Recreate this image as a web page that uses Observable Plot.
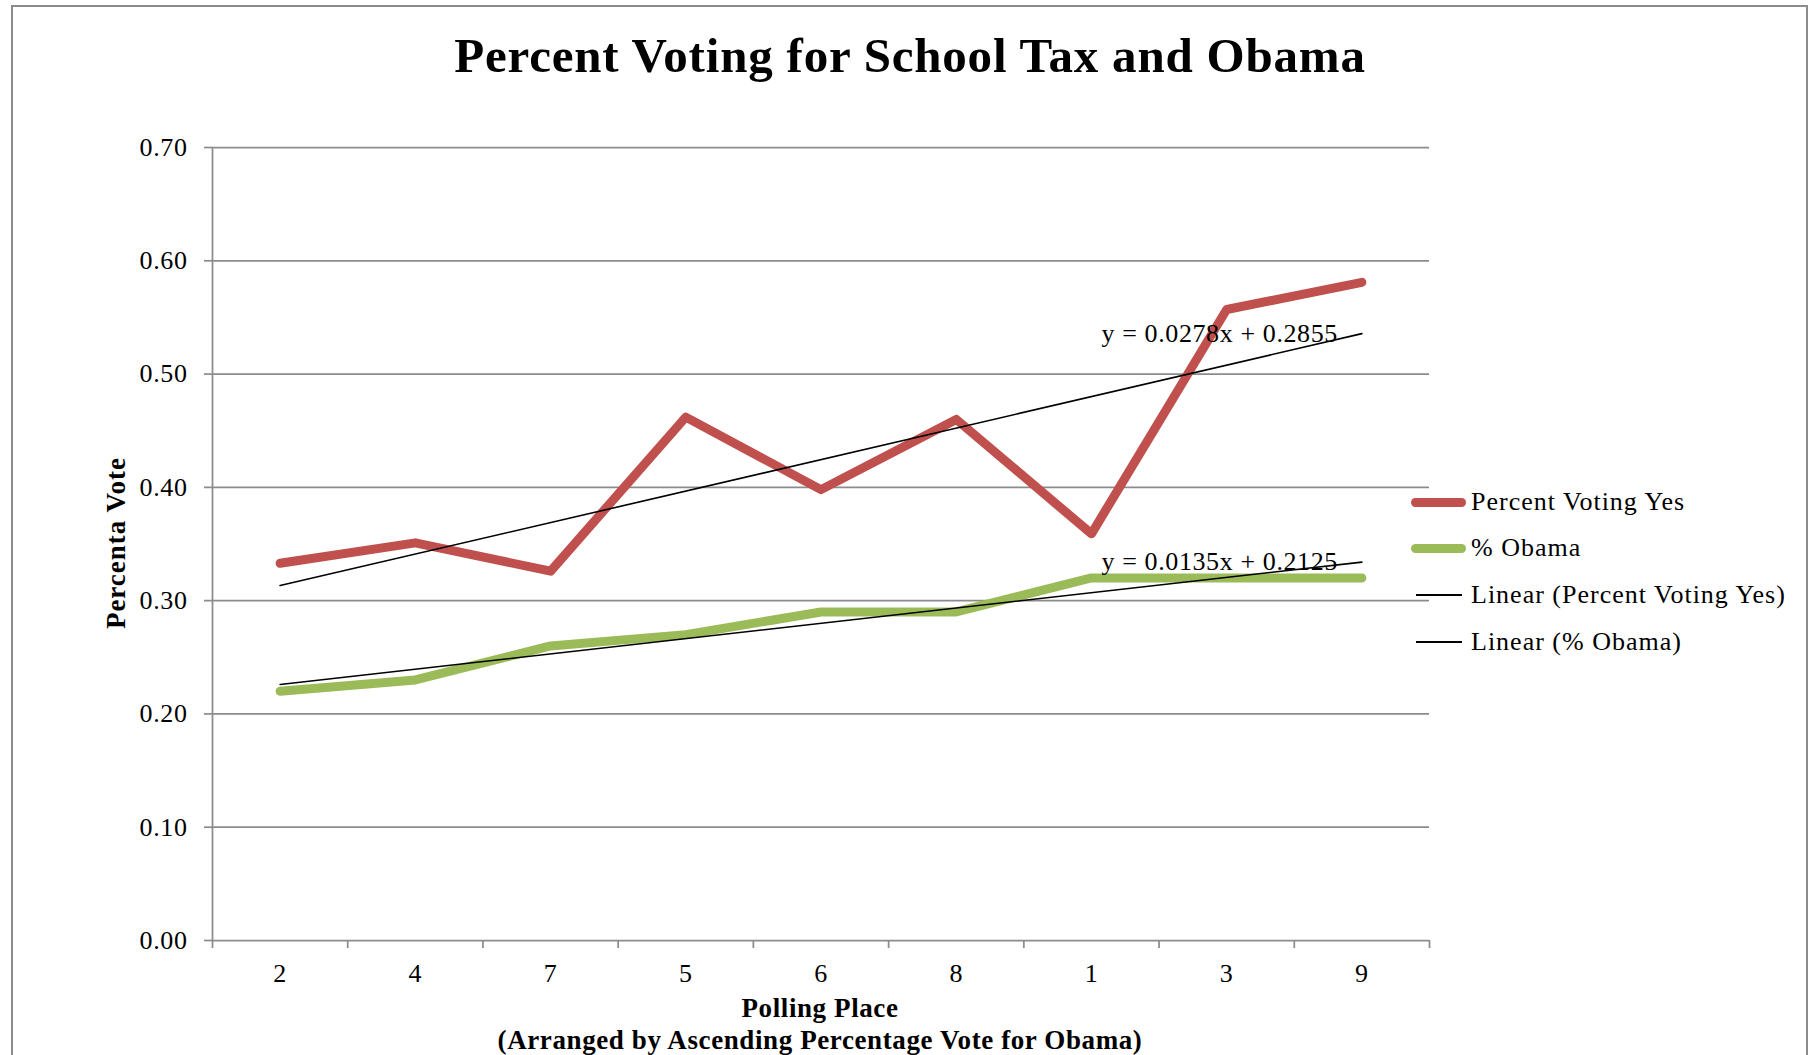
<!DOCTYPE html>
<html>
<head>
<meta charset="utf-8">
<script src="https://cdn.jsdelivr.net/npm/d3@7"></script>
<script src="https://cdn.jsdelivr.net/npm/@observablehq/plot@0.6"></script>
<style>
  html, body { margin: 0; padding: 0; background: #fff; }
  #wrap { position: relative; width: 1817px; height: 1055px; overflow: hidden; font-family: "Liberation Serif", serif; color: #000; }
  #frame { position: absolute; left: 11px; top: 5px; width: 1797px; height: 1100px; border: 2px solid #8c8c8c; box-sizing: border-box; }
  #chart { position: absolute; left: 0; top: 0; }
  .t { position: absolute; white-space: nowrap; }
  #title { left: 910px; top: 55px; transform: translate(-50%, -50%); font-size: 49px; font-weight: bold; letter-spacing: 0.8px; }
  #ylab { left: 116px; top: 543px; transform: translate(-50%, -50%) rotate(-90deg); font-size: 27px; font-weight: bold; letter-spacing: 1px; }
  #xlab1 { left: 820px; top: 1008px; transform: translate(-50%, -50%); font-size: 27px; font-weight: bold; letter-spacing: 0.6px; }
  #xlab2 { left: 820px; top: 1040px; transform: translate(-50%, -50%); font-size: 27px; font-weight: bold; letter-spacing: 0.6px; }
  .leg { position: absolute; left: 1411px; height: 30px; display: flex; align-items: center; font-size: 26px; letter-spacing: 1px; }
  .sw { width: 55px; margin-right: 5px; }
</style>
</head>
<body>
<div id="wrap">
  <div id="frame"></div>
  <div id="chart"></div>
  <div class="t" id="title">Percent Voting for School Tax and Obama</div>
  <div class="t" id="ylab">Percenta Vote</div>
  <div class="t" id="xlab1">Polling Place</div>
  <div class="t" id="xlab2">(Arranged by Ascending Percentage Vote for Obama)</div>
  <div id="legend"></div>
</div>
<script>
// ---- data ----
const categories = ["2", "4", "7", "5", "6", "8", "1", "3", "9"];
const percentVotingYes = [0.333, 0.351, 0.326, 0.462, 0.398, 0.460, 0.359, 0.557, 0.581];
const percentObama = [0.220, 0.230, 0.260, 0.270, 0.290, 0.290, 0.320, 0.320, 0.320];
const yTicks = [0, 0.1, 0.2, 0.3, 0.4, 0.5, 0.6, 0.7];
const seriesNames = ["Percent Voting Yes", "% Obama"];
const trendNames = ["Linear (Percent Voting Yes)", "Linear (% Obama)"];
const trendSlopes = [0.0278, 0.0135];
const trendIntercepts = [0.2855, 0.2125];
const trendLabels = ["y = 0.0278x + 0.2855", "y = 0.0135x + 0.2125"];
const colors = ["#C0504D", "#9BBB59"];

// ---- tables ----
const idx = d3.range(categories.length);
const seriesValues = [percentVotingYes, percentObama];
const lineRows = seriesValues.flatMap((vals, s) => idx.map(i => ({s, i, v: vals[i]})));
const trendRows = trendSlopes.flatMap((m, s) =>
  [0, categories.length - 1].map(i => ({s, i, v: trendIntercepts[s] + m * (i + 1)})));
const trendEnds = trendRows.filter(d => d.i === categories.length - 1)
  .map(d => ({...d, label: trendLabels[d.s]}));

const gray = "#8c8c8c";
const chart = Plot.plot({
  width: 1817,
  height: 1055,
  marginLeft: 212,
  marginRight: 388,
  marginTop: 147,
  marginBottom: 115,
  x: {type: "linear", domain: [-0.5, categories.length - 0.5]},
  y: {domain: [0, 0.7]},
  style: {fontFamily: "'Liberation Serif', serif", fontSize: "26px", color: "#000", background: "transparent", letterSpacing: "0.6px"},
  marks: [
    Plot.gridY(yTicks, {stroke: gray, strokeOpacity: 1, strokeWidth: 1.75}),
    Plot.ruleX([-0.5], {stroke: gray, strokeWidth: 1.75}),
    Plot.axisY(yTicks, {tickFormat: d3.format(".2f"), tickSize: 8, tickPadding: 17, stroke: gray, strokeWidth: 1.75, label: null, fill: "#000", fontSize: 26}),
    Plot.axisX(idx, {tickFormat: i => categories[i], tickSize: 0, tickPadding: 23, label: null, fill: "#000", fontSize: 26}),
    Plot.axisX(d3.range(categories.length + 1).map(i => i - 0.5), {tickFormat: () => "", tickSize: 8, stroke: gray, strokeWidth: 1.75, label: null}),
    Plot.line(lineRows, {x: "i", y: "v", z: "s", stroke: d => colors[d.s], strokeWidth: 9, strokeLinecap: "round", strokeLinejoin: "round"}),
    Plot.line(trendRows, {x: "i", y: "v", z: "s", stroke: "#000", strokeWidth: 1.6}),
    Plot.text(trendEnds, {x: "i", y: "v", text: "label", textAnchor: "end", dx: -24, fontSize: 26, fill: "#000"})
  ]
});
document.getElementById("chart").appendChild(chart);

// ---- legend ----
const legend = document.getElementById("legend");
const legendItems = [
  {name: seriesNames[0], color: colors[0], thick: true},
  {name: seriesNames[1], color: colors[1], thick: true},
  {name: trendNames[0], color: "#000", thick: false},
  {name: trendNames[1], color: "#000", thick: false}
];
const legendY = [502, 548, 595, 642];
legendItems.forEach((it, k) => {
  const row = document.createElement("div");
  row.className = "leg";
  row.style.top = (legendY[k] - 15) + "px";
  const sw = document.createElement("div");
  sw.className = "sw";
  if (it.thick) {
    sw.style.height = "9px"; sw.style.borderRadius = "5px"; sw.style.background = it.color;
  } else {
    sw.style.height = "1.6px"; sw.style.background = it.color;
    sw.style.marginLeft = "5px"; sw.style.width = "46px"; sw.style.marginRight = "9px";
  }
  row.appendChild(sw);
  const tx = document.createElement("span");
  tx.textContent = it.name;
  row.appendChild(tx);
  legend.appendChild(row);
});
</script>
</body>
</html>
